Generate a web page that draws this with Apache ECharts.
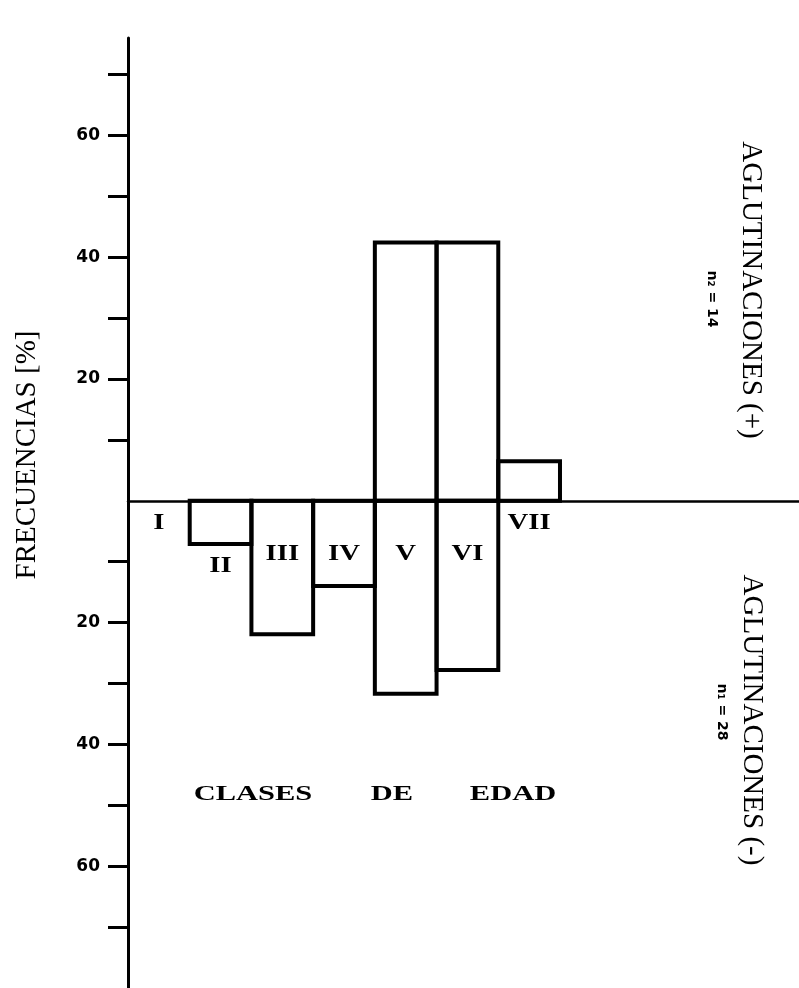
<!DOCTYPE html>
<html>
<head>
<meta charset="utf-8">
<script src="https://cdn.jsdelivr.net/npm/echarts@6/dist/echarts.min.js"></script>
<style>
  html, body { margin: 0; padding: 0; background: #fff; }
  #chart { width: 799px; height: 988px; }
</style>
</head>
<body>
<div id="chart"></div>
<script>
// Age classes and frequency (%) of positive / negative agglutinations
const categories = ['I', 'II', 'III', 'IV', 'V', 'VI', 'VII'];
const positivePct = [0, 0, 0, 0, 42.4, 42.4, 6.5];     // n2 = 14, drawn above zero
const negativePct = [0, 7.1, 21.9, 14.0, 31.7, 27.8, 0]; // n1 = 28, drawn below zero
const tickMarks = [-70, -60, -50, -40, -30, -20, -10, 10, 20, 30, 40, 50, 60, 70];
const tickLabels = [-60, -40, -20, 20, 40, 60];

const chart = echarts.init(document.getElementById('chart'), null, { renderer: 'canvas' });

const SERIF = '"Liberation Serif", "DejaVu Serif", serif';
const SANS = '"DejaVu Sans", sans-serif';

function barRect(api, i, v) {
  const p0 = api.coord([i, 0]);
  const p1 = api.coord([i + 1, v]);
  return {
    type: 'rect',
    shape: {
      x: p0[0], y: Math.min(p0[1], p1[1]),
      width: p1[0] - p0[0], height: Math.abs(p1[1] - p0[1])
    },
    style: { fill: 'rgba(0,0,0,0)', stroke: '#000', lineWidth: 4 }
  };
}

function renderPositive(params, api) {
  const i = api.value(0), v = api.value(1);
  if (!v) return null;
  return barRect(api, i, v);
}

function renderNegative(params, api) {
  const i = api.value(0), v = api.value(1);
  const children = [];
  if (v) children.push(barRect(api, i, v));
  const zero = api.coord([i, 0]);
  const bottom = api.coord([i, v]);
  const center = api.coord([i + 0.5, 0])[0];
  const depth = bottom[1] - zero[1];
  // numeral sits inside deep bars, just under shallow ones
  const cy = depth > 80 ? zero[1] + 53 : bottom[1] + 22;
  children.push({
    type: 'text',
    x: center, y: cy, scaleX: 1.2,
    style: {
      text: categories[i], x: 0, y: 0,
      align: 'center', verticalAlign: 'middle',
      textAlign: 'center', textVerticalAlign: 'middle',
      font: 'bold 24px ' + SERIF, fill: '#000'
    }
  });
  return { type: 'group', children };
}

function label(text, x, y, font, rotation, sx) {
  return {
    type: 'text', x, y, rotation: rotation || 0, scaleX: sx || 1,
    style: {
      text, x: 0, y: 0, font, fill: '#000',
      align: 'center', verticalAlign: 'middle',
      textAlign: 'center', textVerticalAlign: 'middle'
    }
  };
}

const option = {
  animation: false,
  backgroundColor: '#fff',
  grid: { left: 128, right: 0, top: 38, bottom: 0, containLabel: false },
  xAxis: {
    type: 'value', min: 0, max: 10.873,
    axisLine: { onZero: true, lineStyle: { color: '#000', width: 2.5 } },
    axisTick: { show: false }, axisLabel: { show: false }, splitLine: { show: false }
  },
  yAxis: {
    type: 'value', min: -80, max: 76, interval: 10,
    axisLine: { show: true, lineStyle: { color: '#000', width: 3 } },
    axisTick: { show: true, inside: false, length: 20, customValues: tickMarks,
                lineStyle: { color: '#000', width: 3 } },
    axisLabel: {
      show: true, customValues: tickLabels, margin: 28,
      formatter: v => String(Math.abs(v)),
      color: '#000', fontFamily: SANS, fontWeight: 'bold', fontSize: 17
    },
    splitLine: { show: false }
  },
  graphic: [
    label('FRECUENCIAS [%]', 27, 455, '29px ' + SERIF, Math.PI / 2),
    label('AGLUTINACIONES (+)', 751, 290, '29px ' + SERIF, -Math.PI / 2),
    label('AGLUTINACIONES (-)', 752, 720, '29px ' + SERIF, -Math.PI / 2),
    label('n\u2082 = 14', 712, 299, 'bold 14px ' + SANS, -Math.PI / 2),
    label('n\u2081 = 28', 722, 712, 'bold 14px ' + SANS, -Math.PI / 2),
    label('CLASES', 253, 795, 'bold 21px ' + SERIF, 0, 1.45),
    label('DE', 392, 795, 'bold 21px ' + SERIF, 0, 1.45),
    label('EDAD', 513, 795, 'bold 21px ' + SERIF, 0, 1.45)
  ],
  series: [
    {
      type: 'custom', name: 'positivas',
      renderItem: renderPositive,
      encode: { x: 0, y: 1 },
      data: positivePct.map((v, i) => [i, v])
    },
    {
      type: 'custom', name: 'negativas',
      renderItem: renderNegative,
      encode: { x: 0, y: 1 },
      data: negativePct.map((v, i) => [i, -v])
    }
  ]
};

chart.setOption(option);
</script>
</body>
</html>
